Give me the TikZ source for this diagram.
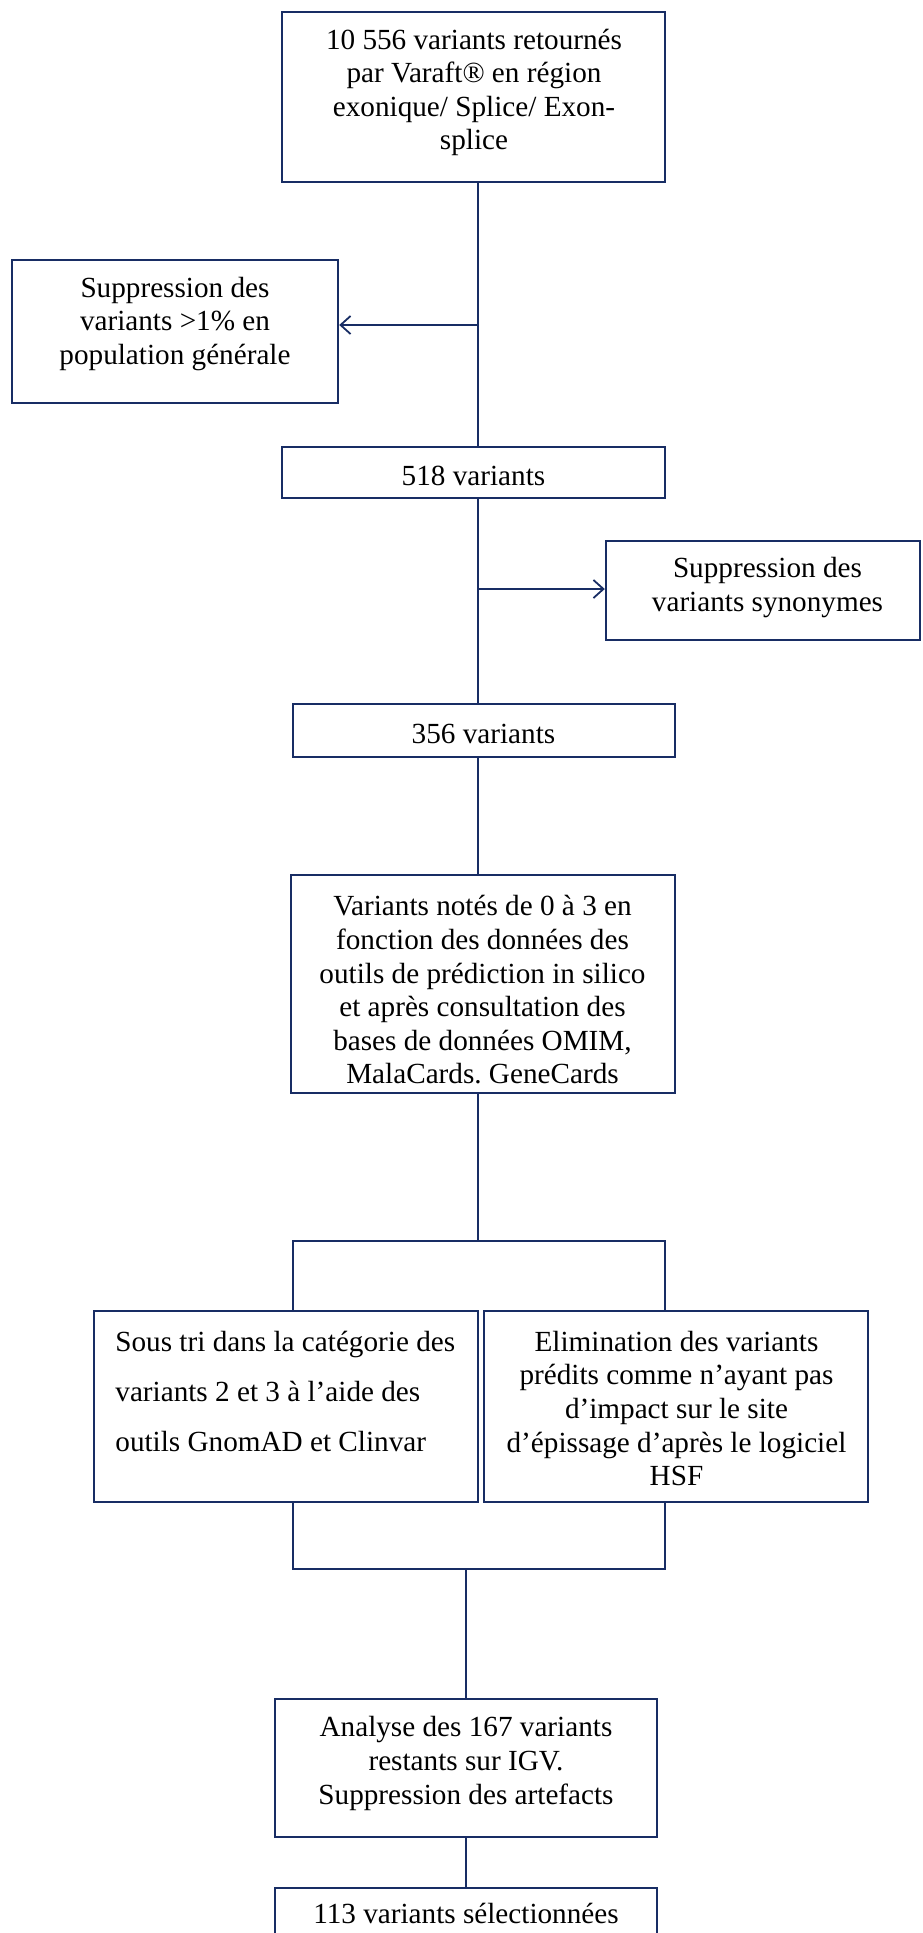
\documentclass[tikz,border=0pt]{standalone}
\usepackage{fontspec}
\setmainfont{Liberation Serif}
\usetikzlibrary{arrows.meta}
\definecolor{navy}{RGB}{24,45,100}
\frenchspacing
\begin{document}
\begin{tikzpicture}[x=0.5pt,y=-0.5pt,
  box/.style={draw=navy, line width=1.2pt, inner sep=0pt},
  txt/.style={font=\fontsize{14.6pt}{16.8pt}\selectfont, align=center, inner sep=0pt, text=black},
  txtwide/.style={font=\fontsize{14.6pt}{25pt}\selectfont, align=left, inner sep=0pt, text=black},
  conn/.style={draw=navy, line width=0.9pt},
  arr/.style={conn, -{Straight Barb[length=5pt,width=9pt,line width=0.9pt]}}]
\useasboundingbox (0,0) rectangle (922,1933);
\clip (0,0) rectangle (922,1933);

% boxes
\node[box, minimum width=191.5pt, minimum height=85pt] (top) at (473.5,97) {};
\node[box, minimum width=163pt, minimum height=71.5pt] (left) at (175,331.5) {};
\node[box, minimum width=191.5pt, minimum height=25.5pt] (b518) at (473.5,472.5) {};
\node[box, minimum width=157pt, minimum height=49.5pt] (right) at (763,590.5) {};
\node[box, minimum width=191pt, minimum height=26.5pt] (b356) at (484,730.5) {};
\node[box, minimum width=192pt, minimum height=109pt] (big) at (483,984) {};
\node[box, minimum width=192pt, minimum height=95.5pt] (sous) at (286,1406.5) {};
\node[box, minimum width=192pt, minimum height=95.5pt] (elim) at (676,1406.5) {};
\node[box, minimum width=191pt, minimum height=69pt] (analyse) at (466,1768) {};
\node[box, minimum width=191pt, minimum height=40pt] (final) at (466,1928) {};

% texts
\node[txt] (topT) at (474,92.5) {10 556 variants retournés\\par Varaft® en région\\exonique/ Splice/ Exon-\\splice};
\node[txt] (leftT) at (175,324) {Suppression des\\variants >1\% en\\population générale};
\node[txt] (b518T) at (473.5,476) {518 variants};
\node[txt] (rightT) at (767.5,587.5) {Suppression des\\variants synonymes};
\node[txt] (b356T) at (483.5,734) {356 variants};
\node[txt] (bigT) at (482.5,990) {Variants notés de 0 à 3 en\\fonction des données des\\outils de prédiction in silico\\et après consultation des\\bases de données OMIM,\\MalaCards. GeneCards};
\node[txtwide, anchor=west] (sousT) at (115,1391.5) {Sous tri dans la catégorie des\\variants 2 et 3 à l’aide des\\outils GnomAD et Clinvar};
\node[txt] (elimT) at (676.5,1408.5) {Elimination des variants\\prédits comme n’ayant pas\\d’impact sur le site\\d’épissage d’après le logiciel\\HSF};
\node[txt] (analyseT) at (466,1763.5) {Analyse des 167 variants\\restants sur IGV.\\Suppression des artefacts};
\node[txt] (finalT) at (466,1913) {113 variants sélectionnées};

% junction points
\coordinate (j1) at (478,325);
\coordinate (j2) at (478,589);
\coordinate (s1) at (478,1241);
\coordinate (sL) at (293,1241);
\coordinate (sR) at (665,1241);
\coordinate (mL) at (293,1569);
\coordinate (mR) at (665,1569);
\coordinate (m) at (466,1569);

% connectors
\draw[conn] (top.south -| j1) -- (b518.north -| j1);
\draw[arr] (j1) -- (left.east |- j1);
\draw[conn] (b518.south -| j2) -- (b356.north -| j2);
\draw[arr] (j2) -- (right.west |- j2);
\draw[conn] (b356.south -| j2) -- (big.north -| j2);
\draw[conn] (big.south -| s1) -- (s1);
\draw[conn] (sL |- sous.north) -- (sL) -- (sR) -- (sR |- elim.north);
\draw[conn] (sous.south -| mL) -- (mL) -- (mR) -- (elim.south -| mR);
\draw[conn] (m) -- (analyse.north);
\draw[conn] (analyse) -- (final);
\end{tikzpicture}
\end{document}
